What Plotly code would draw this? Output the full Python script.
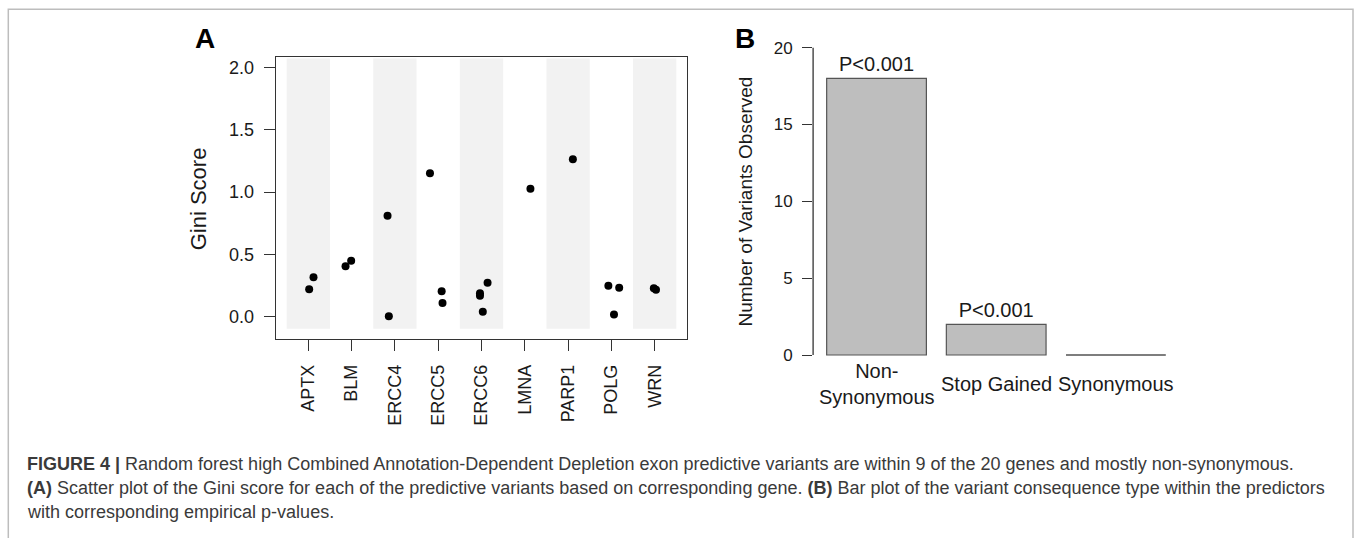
import plotly.graph_objects as go

W, H = 1354, 538

# ---------------- data ----------------
genes = ["APTX", "BLM", "ERCC4", "ERCC5", "ERCC6", "LMNA", "PARP1", "POLG", "WRN"]
point_gene = ["APTX", "APTX", "BLM", "BLM", "ERCC4", "ERCC4", "ERCC5", "ERCC5", "ERCC5",
              "ERCC6", "ERCC6", "ERCC6", "ERCC6", "LMNA", "PARP1", "POLG", "POLG", "POLG",
              "WRN", "WRN"]
point_jitter = [0.02, 0.12, -0.14, -0.01, -0.17, -0.14, -0.19, 0.08, 0.10,
                -0.035, -0.035, 0.14, 0.03, 0.13, 0.11, -0.07, 0.18, 0.06,
                -0.02, 0.03]
gini = [0.218, 0.315, 0.404, 0.448, 0.81, 0.0, 1.151, 0.202, 0.108,
        0.186, 0.165, 0.27, 0.036, 1.027, 1.264, 0.246, 0.23, 0.014,
        0.226, 0.213]
gini_ticks = [0.0, 0.5, 1.0, 1.5, 2.0]

consequence = ["Non-<br>Synonymous", "Stop Gained", "Synonymous"]
n_variants = [18, 2, 0]
p_labels = ["P<0.001", "P<0.001", ""]
count_ticks = [0, 5, 10, 15, 20]

# ---------------- helpers ----------------
def px(x):
    return x / W

def py(y):
    return 1 - y / H

FONT = "Liberation Sans, Arial, Helvetica, sans-serif"
TXT = "#1a1a1a"
AX = "#333333"

gene_pos = [i + 1 for i in range(len(genes))]
pt_x = [genes.index(g) + 1 + j for g, j in zip(point_gene, point_jitter)]
band_x = gene_pos[0::2]
band_lo, band_hi = -0.1, 2.075

bar_w = 1.0
bar_space = 0.2
bar_x = [bar_space + bar_w / 2 + i * (bar_w + bar_space) for i in range(len(consequence))]

fig = go.Figure()

# panel A background bands
fig.add_trace(go.Bar(
    x=band_x, y=[band_hi - band_lo] * len(band_x), base=band_lo, width=1.0,
    marker=dict(color="#f2f2f2", line=dict(width=0)),
    hoverinfo="skip", showlegend=False, xaxis="x", yaxis="y"))

# panel A points
fig.add_trace(go.Scatter(
    x=pt_x, y=gini, mode="markers",
    marker=dict(color="black", size=8, line=dict(width=0)),
    showlegend=False, xaxis="x", yaxis="y", cliponaxis=False))

# panel B bars
fig.add_trace(go.Bar(
    x=bar_x, y=n_variants, width=bar_w,
    marker=dict(color="#bebebe", line=dict(color="#555555", width=1.2)),
    text=p_labels, textposition="outside", cliponaxis=False,
    textfont=dict(family=FONT, size=20, color=TXT),
    showlegend=False, xaxis="x2", yaxis="y2"))

xA = [px(275.7), px(687.3)]
yA = [py(339.3), py(57.3)]
xB = [px(813.1), px(1179.3)]
yB = [py(367.3), py(35.4)]

fig.update_layout(
    width=W, height=H,
    margin=dict(l=0, r=0, t=0, b=0),
    paper_bgcolor="white", plot_bgcolor="white",
    barmode="overlay",
    font=dict(family=FONT, color=TXT, size=18),
    xaxis=dict(domain=xA, range=[0.247, 9.753], tickmode="array", tickvals=gene_pos,
               ticktext=genes, tickangle=-90, ticks="outside", ticklen=11,
               tickcolor=AX, tickwidth=1.2, showline=True, mirror=True, linecolor=AX,
               linewidth=1.3, showgrid=False, zeroline=False, automargin=False,
               tickfont=dict(size=18, color=TXT), ticklabelstandoff=6),
    yaxis=dict(domain=yA, range=[-0.185, 2.085], tickmode="array", tickvals=gini_ticks,
               ticktext=[f"{v:.1f}" for v in gini_ticks], ticks="outside", ticklen=11,
               tickcolor=AX, tickwidth=1.2, showline=True, mirror=True, linecolor=AX,
               linewidth=1.3, showgrid=False, zeroline=False, automargin=False,
               tickfont=dict(size=18, color=TXT), ticklabelstandoff=6),
    xaxis2=dict(domain=xB, range=[0.064, 3.736], showticklabels=False, ticks="",
                showline=False, showgrid=False, zeroline=False, automargin=False),
    yaxis2=dict(domain=yB, range=[-0.8, 20.8], anchor="x2", tickmode="array",
                tickvals=count_ticks, ticktext=[str(v) for v in count_ticks],
                ticks="outside", ticklen=10, tickcolor=AX, tickwidth=1.2,
                showline=False, showgrid=False, zeroline=False, automargin=False,
                tickfont=dict(size=17, color=TXT), ticklabelstandoff=6),
)

shapes = []
# R-style y axis line (only over the tick range) for panel B
shapes.append(dict(type="line", xref="x2 domain", yref="y2", x0=0, x1=0,
                   y0=count_ticks[0], y1=count_ticks[-1],
                   line=dict(color=AX, width=1.3)))
# zero-height bars drawn as their outline
for xc, v in zip(bar_x, n_variants):
    if v == 0:
        shapes.append(dict(type="line", xref="x2", yref="y2", x0=xc - bar_w / 2,
                           x1=xc + bar_w / 2, y0=v, y1=v,
                           line=dict(color="#555555", width=1.2)))
# outer frame
shapes.append(dict(type="rect", xref="paper", yref="paper", x0=px(8.3), x1=px(1353),
                   y0=-0.2, y1=py(9.3), line=dict(color="#bdbdbd", width=1.5),
                   fillcolor="rgba(0,0,0,0)"))
fig.update_layout(shapes=shapes)

ann = []
# panel letters
ann.append(dict(text="<b>A</b>", x=px(205), y=py(38), xref="paper", yref="paper",
                showarrow=False, font=dict(size=28, color="black"), xanchor="center",
                yanchor="middle"))
ann.append(dict(text="<b>B</b>", x=px(745), y=py(38), xref="paper", yref="paper",
                showarrow=False, font=dict(size=28, color="black"), xanchor="center",
                yanchor="middle"))
# axis titles
ann.append(dict(text="Gini Score", x=px(198), y=py(198.3), xref="paper", yref="paper",
                textangle=-90, showarrow=False, font=dict(size=22, color=TXT),
                xanchor="center", yanchor="middle"))
ann.append(dict(text="Number of Variants Observed", x=px(745), y=py(201.5), xref="paper",
                yref="paper", textangle=-90, showarrow=False,
                font=dict(size=19, color=TXT), xanchor="center", yanchor="middle"))
# category labels for panel B
for xc, lab in zip(bar_x, consequence):
    ann.append(dict(text=lab, x=xc, y=py(384), xref="x2", yref="paper", showarrow=False,
                    font=dict(size=20, color=TXT), xanchor="center", yanchor="middle"))

# caption
cap = [
    "<b>FIGURE 4 |</b> Random forest high Combined Annotation-Dependent Depletion exon predictive variants are within 9 of the 20 genes and mostly non-synonymous.",
    "<b>(A)</b> Scatter plot of the Gini score for each of the predictive variants based on corresponding gene. <b>(B)</b> Bar plot of the variant consequence type within the predictors",
    "with corresponding empirical p-values.",
]
cap_y = [464, 488, 512]
for t, yy in zip(cap, cap_y):
    ann.append(dict(text=t, x=px(25), y=py(yy), xref="paper", yref="paper",
                    showarrow=False, font=dict(size=18, color="#3a3a3a"),
                    xanchor="left", yanchor="middle"))
fig.update_layout(annotations=ann)

fig.write_html("out.html")
